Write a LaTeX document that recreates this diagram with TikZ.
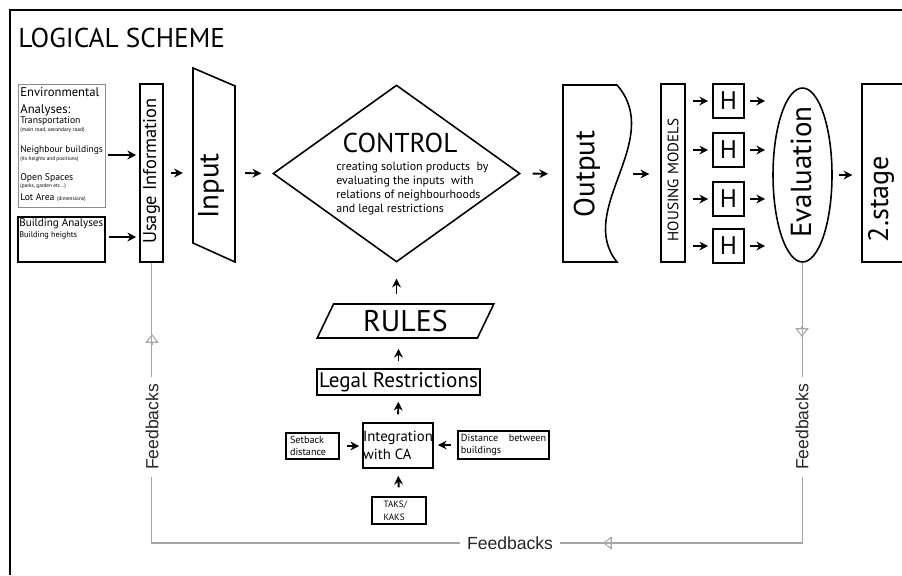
\documentclass[tikz,border=0pt]{standalone}
\usepackage{fontspec}
\setmainfont{PT Sans}
\newfontfamily\fbfont{Liberation Sans}
\usetikzlibrary{arrows.meta,shapes.geometric}
\newcommand{\fz}[1]{\fontsize{#1}{#1}\selectfont}
\tikzset{
  box/.style={draw, line width=0.9pt, inner sep=0pt},
  arr/.style={-{Stealth[length=5pt,width=5pt]}, line width=1.1pt},
  fb/.style={draw=black!35, line width=0.6pt},
  fbtip/.style={fb, -{Triangle[open,length=5pt,width=7.5pt]}},
  fblabel/.style={fill=white, font=\fbfont\fz{10}, text=black!85, inner sep=4pt},
  vtext/.style={rotate=90, inner sep=0pt},
}
\begin{document}
\begin{tikzpicture}[x=0.02cm, y=-0.02cm]
	\useasboundingbox (0,0) rectangle (902,575);
	\clip (0,0) rectangle (902,575);
	
	% Marco y titulo
	\draw[line width=1.1pt] (10,575) -- (10,10) -- (902,10);
	\node[anchor=west, font=\fz{15.5}, inner sep=0pt] (title) at (18,38) {LOGICAL SCHEME};
	
	% Analisis de entrada
	\node[box, draw=black!45, line width=0.5pt, minimum width=1.74cm, minimum height=2.46cm] (env) at (61.5,145.5) {};
	\node[anchor=west, inner sep=0pt, font=\fz{7.2}] (envA) at (20,92) {Environmental};
	\node[anchor=west, inner sep=0pt, font=\fz{7.2}] (envB) at (20,110) {Analyses:};
	\node[anchor=west, inner sep=0pt, font=\fz{5.5}] (envC) at (20,121) {Transportation};
	\node[anchor=west, inner sep=0pt, font=\fz{3.1}] (envD) at (20,130) {(main road, secondary road)};
	\node[anchor=west, inner sep=0pt, font=\fz{5.4}] (envE) at (20,150) {Neighbour buildings};
	\node[anchor=west, inner sep=0pt, font=\fz{3}] (envF) at (20,159) {(its heights and positions)};
	\node[anchor=west, inner sep=0pt, font=\fz{5.5}] (envG) at (20,178) {Open Spaces};
	\node[anchor=west, inner sep=0pt, font=\fz{3}] (envH) at (20,186) {(parks, garden etc...)};
	\node[anchor=west, inner sep=0pt, font=\fz{5.5}] (envI) at (20,198) {Lot Area {\fz{3}(dimensions)}};
	
	\node[box, line width=1.1pt, minimum width=1.74cm, minimum height=0.9cm] (bldg) at (61.5,239.5) {};
	\node[anchor=west, inner sep=0pt, font=\fz{6.3}] (bldgA) at (19,224) {Building Analyses:};
	\node[anchor=west, inner sep=0pt, font=\fz{4.7}] (bldgB) at (19,235) {Building heights};
	
	\node[box, minimum width=0.46cm, minimum height=3.56cm] (usage) at (151.5,173) {};
	\node[vtext, font=\fz{10.5}] (usageT) at (151.5,171) {Usage Information};
	
	% Input
	\draw[line width=0.9pt] (193,68) -- (235,86) -- (235,262) -- (193,243) -- cycle;
	\coordinate (inW) at (193,173);
	\coordinate (inE) at (235,173);
	\node[vtext, font=\fz{16.5}] (inputT) at (211,186) {Input};
	
	% Control
	\node[diamond, box, minimum width=4.94cm, minimum height=3.54cm] (ctrl) at (396.5,173.5) {};
	\node[font=\fz{15.5}, inner sep=0pt] (ctrlT) at (400,143) {CONTROL};
	\node[anchor=west, align=left, inner sep=0pt, font=\fontsize{6.8}{8.1}\selectfont] (ctrlS) at (336,188.5)
		{creating solution products~ by\\evaluating the inputs~ with\\relations of neighbourhoods\\and legal restrictions};
	
	% Output
	\draw[line width=0.9pt] (563,85) -- (617,85) .. controls (665,140) and (575,210) .. (617,262) -- (563,262) -- cycle;
	\coordinate (outW) at (563,174);
	\coordinate (outE) at (633,174);
	\node[vtext, font=\fz{16.5}] (outputT) at (587,174) {Output};
	
	% Modelos de vivienda
	\node[box, minimum width=0.48cm, minimum height=3.56cm] (housing) at (673,173) {};
	\node[vtext, font=\fz{8.6}] (housingT) at (673,180) {HOUSING MODELS};
	
	\node[ellipse, box, minimum width=1.18cm, minimum height=3.48cm] (eval) at (802.5,175) {};
	\node[vtext, font=\fz{16.5}] (evalT) at (801,172) {Evaluation};
	
	\node[box, minimum width=0.84cm, minimum height=3.56cm] (stage) at (883,173) {};
	\node[vtext, font=\fz{16}] (stageT) at (881,199) {2.stage};
	
	\foreach \y [count=\i] in {101,150,199,246} {
		\node[box, minimum width=0.62cm, minimum height=0.68cm, font=\fz{14.5}] (h\i) at (728.5,\y) {H};
		\draw[arr, shorten <=4pt, shorten >=2.3pt] (housing.east |- h\i) -- (h\i.west);
		\draw[arr, shorten <=3pt, shorten >=4pt] (h\i.east) -- (h\i.east -| eval.west);
	}
	
	% Flechas principales
	\draw[arr, shorten <=1.7pt, shorten >=1.7pt] (env.east |- 0,155) -- (usage.west |- 0,155);
	\draw[arr, shorten <=1.7pt, shorten >=1.7pt] (bldg.east |- 0,237) -- (usage.west |- 0,237);
	\draw[arr, shorten <=4pt, shorten >=5.7pt] (usage.east) -- (inW);
	\draw[arr, shorten <=5.7pt, shorten >=6.2pt] (inE) -- (ctrl.west);
	\draw[arr, shorten <=6.8pt, shorten >=8.5pt] (ctrl.east) -- (outW);
	\draw[arr, shorten >=6.2pt] (outE) -- (housing.west |- outE);
	\draw[arr, shorten <=3.4pt, shorten >=5pt] (eval.east) -- (stage.west |- eval.east);
	
	% Reglas
	\node[trapezium, trapezium left angle=66, trapezium right angle=114, trapezium stretches=true, box,
		minimum width=3.54cm, minimum height=0.68cm, font=\fz{17}] (rules) at (405.5,321) {RULES};
	\node[box, minimum width=3.26cm, minimum height=0.52cm, font=\fz{12}] (legal) at (398.5,382) {Legal Restrictions};
	\node[box, minimum width=1.4cm, minimum height=0.9cm, align=left, font=\fontsize{8.4}{10}\selectfont] (integ) at (398,445.5) {Integration\\with CA};
	\node[box, line width=1pt, minimum width=1.06cm, minimum height=0.52cm, align=left, font=\fontsize{5.8}{7}\selectfont] (setback) at (312.5,446) {Setback~~~~~\\distance~~~~};
	\node[box, line width=1pt, minimum width=1.82cm, minimum height=0.56cm, align=left, font=\fontsize{5.8}{7}\selectfont] (dist) at (503.5,445) {Distance\hspace{6pt}between\\buildings\hspace{34pt}};
	\node[box, line width=1pt, minimum width=1.08cm, minimum height=0.54cm, align=left, font=\fontsize{5.2}{7.5}\selectfont] (taks) at (399,510.5) {TAKS/~~~~\\KAKS~~~~~};
	
	\draw[arr, shorten <=5pt, shorten >=9pt] (rules.north -| ctrl.south) -- (ctrl.south);
	\draw[arr, shorten <=4pt, shorten >=5.7pt] (legal.north) -- (legal.north |- rules.south);
	\draw[arr, shorten <=4.5pt, shorten >=3.4pt] (integ.north) -- (legal.south);
	\draw[arr, shorten <=4pt, shorten >=1.7pt] (setback.east) -- (integ.west |- setback.east);
	\draw[arr, shorten <=3.4pt, shorten >=2.3pt] (dist.west) -- (integ.east |- dist.west);
	\draw[arr, shorten <=5pt, shorten >=4pt] (taks.north) -- (integ.south);
	
	% Retroalimentacion
	\coordinate (fbSE) at (eval.south |- 0,543);
	\coordinate (fbSW) at (usage.south |- 0,543);
	\draw[fb] (eval.south) -- (fbSE) -- (fbSW) -- (usage.south);
	\draw[fbtip] (802,326) -- (802,337);
	\draw[fbtip] (614,543) -- (603,543);
	\draw[fbtip] (152,345) -- (152,334);
	\node[fblabel, rotate=90] (fbL) at (152,427) {Feedbacks};
	\node[fblabel, rotate=90] (fbR) at (802,427) {Feedbacks};
	\node[fblabel] (fbB) at (510,543) {Feedbacks};
\end{tikzpicture}
\end{document}
